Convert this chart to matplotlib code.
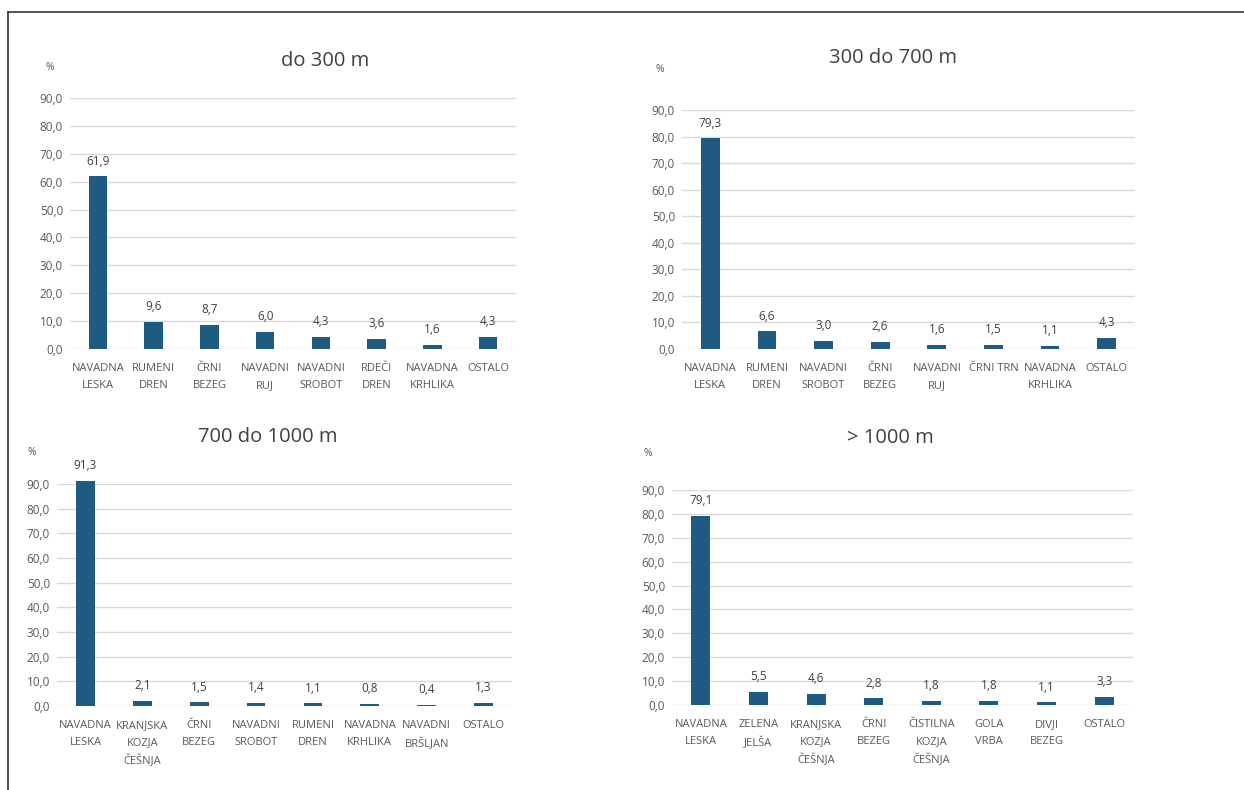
import numpy as np
import matplotlib
matplotlib.use("Agg")
import matplotlib.pyplot as plt
from matplotlib.lines import Line2D

# podatki po visinskih pasovih
titles = ["do 300 m", "300 do 700 m", "700 do 1000 m", "> 1000 m"]

cats_300 = ["NAVADNA\nLESKA", "RUMENI\nDREN", "ČRNI\nBEZEG", "NAVADNI\nRUJ",
            "NAVADNI\nSROBOT", "RDEČI\nDREN", "NAVADNA\nKRHLIKA", "OSTALO"]
vals_300 = [61.9, 9.6, 8.7, 6.0, 4.3, 3.6, 1.6, 4.3]

cats_700 = ["NAVADNA\nLESKA", "RUMENI\nDREN", "NAVADNI\nSROBOT", "ČRNI\nBEZEG",
            "NAVADNI\nRUJ", "ČRNI TRN", "NAVADNA\nKRHLIKA", "OSTALO"]
vals_700 = [79.3, 6.6, 3.0, 2.6, 1.6, 1.5, 1.1, 4.3]

cats_1000 = ["NAVADNA\nLESKA", "KRANJSKA\nKOZJA\nČEŠNJA", "ČRNI\nBEZEG", "NAVADNI\nSROBOT",
             "RUMENI\nDREN", "NAVADNA\nKRHLIKA", "NAVADNI\nBRŠLJAN", "OSTALO"]
vals_1000 = [91.3, 2.1, 1.5, 1.4, 1.1, 0.8, 0.4, 1.3]

cats_top = ["NAVADNA\nLESKA", "ZELENA\nJELŠA", "KRANJSKA\nKOZJA\nČEŠNJA", "ČRNI\nBEZEG",
            "ČISTILNA\nKOZJA\nČEŠNJA", "GOLA\nVRBA", "DIVJI\nBEZEG", "OSTALO"]
vals_top = [79.1, 5.5, 4.6, 2.8, 1.8, 1.8, 1.1, 3.3]

yticks = [0, 10, 20, 30, 40, 50, 60, 70, 80, 90]

plt.rcParams['font.family'] = ['Open Sans', 'DejaVu Sans']

W, H = 1244, 790
BAR = "#1f5a80"
TXT = "#595959"
GRID = "#d9d9d9"

fig = plt.figure(figsize=(W / 100, H / 100), dpi=100)
fig.patch.set_facecolor("white")

# okvir (levi in zgornji rob)
fig.add_artist(Line2D([8 / W, 8 / W], [0, 1 - 12 / H], color="#333333", lw=1.2))
fig.add_artist(Line2D([8 / W, 1], [1 - 12 / H, 1 - 12 / H], color="#333333", lw=1.2))

# (x0, x1, y_spodaj, y_90) v pikslih, naslov, znak %
panels = [
    (cats_300, vals_300, (70, 516, 349, 98), (325, 61), (50, 68)),
    (cats_700, vals_700, (682, 1135, 349, 110), (893, 58), (660, 70)),
    (cats_1000, vals_1000, (57, 512, 706, 484), (268, 437), (32, 452)),
    (cats_top, vals_top, (672, 1133, 705, 490), (890, 438), (648, 454)),
]


def comma(v):
    return f"{v:.1f}".replace(".", ",")


for k, (cats, vals, box, tpos, ppos) in enumerate(panels):
    x0, x1, yb, yt = box
    ax = fig.add_axes([x0 / W, 1 - yb / H, (x1 - x0) / W, (yb - yt) / H])
    x = np.arange(len(cats))
    bars = ax.bar(x, vals, width=0.33, color=BAR, zorder=3, clip_on=False)
    ax.set_xlim(-0.5, len(cats) - 0.5)
    ax.set_ylim(0, 90)
    ax.set_yticks(yticks)
    ax.set_yticklabels([comma(t) for t in yticks], fontsize=8.5, color=TXT)
    ax.set_xticks(x)
    ax.set_xticklabels(cats, fontsize=8, color=TXT, linespacing=1.75)
    ax.tick_params(axis="x", length=0, pad=10)
    ax.tick_params(axis="y", length=0, pad=5)
    ax.grid(axis="y", color=GRID, lw=1, zorder=0)
    for s in ax.spines.values():
        s.set_visible(False)
    for b, v in zip(bars, vals):
        ax.annotate(comma(v), (b.get_x() + b.get_width() / 2, v), xytext=(0, 11),
                    textcoords="offset points", ha="center", va="center",
                    fontsize=8.5, color="#404040", annotation_clip=False)
    fig.text(tpos[0] / W, 1 - tpos[1] / H, titles[k], ha="center", va="center",
             fontsize=14.5, color="#404040")
    fig.text(ppos[0] / W, 1 - ppos[1] / H, "%", ha="center", va="center",
             fontsize=7.5, color=TXT)

fig.savefig("out.png", dpi=100, facecolor="white")
